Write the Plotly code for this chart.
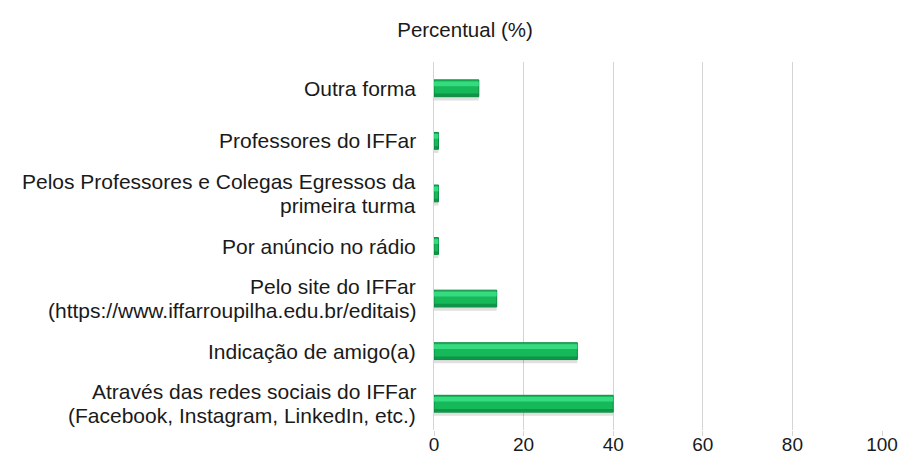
import plotly.graph_objects as go

# data (bottom to top)
categories = [
    "Através das redes sociais do IFFar|(Facebook, Instagram, LinkedIn, etc.)",
    "Indicação de amigo(a)",
    "Pelo site do IFFar|(https://www.iffarroupilha.edu.br/editais)",
    "Por anúncio no rádio",
    "Pelos Professores e Colegas Egressos da|primeira turma",
    "Professores do IFFar",
    "Outra forma",
]
values = [40, 32, 14, 1, 1, 1, 10]
tick_vals = [0, 20, 40, 60, 80, 100]
title_text = "Percentual (%)"

font_family = "Liberation Sans, Arial, sans-serif"
text_color = "#1a1a1a"

# figure size accounts for the 8px body margin of the html page
W, H = 892, 449
ML, MR, MT, MB = 426, 18, 54, 27

BW = 0.32
fig = go.Figure()
# drop shadow
fig.add_trace(go.Bar(
    y=categories, x=values, orientation="h", width=0.07, offset=-BW / 2 - 0.07,
    marker=dict(color="rgba(0,0,0,0.12)", line=dict(width=0)),
    hoverinfo="skip", showlegend=False,
))
# main bar
fig.add_trace(go.Bar(
    y=categories, x=values, orientation="h", width=BW,
    marker=dict(color="#16b95a", line=dict(color="#0b8a40", width=1)),
    hoverinfo="skip", showlegend=False,
))
# top highlight
fig.add_trace(go.Bar(
    y=categories, x=values, orientation="h", width=0.09, offset=0.04,
    marker=dict(color="rgba(60,225,135,0.85)", line=dict(width=0)),
    hoverinfo="skip", showlegend=False,
))
# bottom darker band
fig.add_trace(go.Bar(
    y=categories, x=values, orientation="h", width=0.05, offset=-BW / 2 + 0.01,
    marker=dict(color="rgba(10,120,55,0.55)", line=dict(width=0)),
    hoverinfo="skip", showlegend=False,
))

annotations = []
for cat in categories:
    lines = cat.split("|")
    n = len(lines)
    for i, ln in enumerate(lines):
        shift = ((n - 1) / 2 - i) * 24
        annotations.append(dict(
            text=ln, x=0, xref="paper", y=cat, yref="y",
            xanchor="right", yanchor="middle", xshift=-16, yshift=shift,
            showarrow=False, font=dict(size=21, family=font_family, color=text_color),
        ))

fig.update_layout(
    barmode="overlay",
    width=W, height=H,
    paper_bgcolor="white", plot_bgcolor="white",
    margin=dict(l=ML, r=MR, t=MT, b=MB, autoexpand=False),
    font=dict(family=font_family, size=19, color=text_color),
    showlegend=False,
    title=dict(
        text=title_text, x=457 / W, y=1 - 22 / H, xanchor="center", yanchor="middle",
        font=dict(size=20.5, family=font_family, color=text_color),
    ),
    annotations=annotations,
)

fig.update_xaxes(
    range=[0, 100], tickvals=tick_vals,
    showgrid=True, gridcolor="#d4d4d4", gridwidth=1,
    zeroline=False, showline=False,
    ticks="outside", ticklen=5, tickcolor="#d4d4d4",
    ticklabelstandoff=-8, ticklabeloverflow="allow",
    tickfont=dict(size=19, color=text_color),
)
fig.update_yaxes(
    showgrid=False, zeroline=False, showline=True, linecolor="#d4d4d4",
    ticks="", showticklabels=False,
)
fig.write_html("out.html")
